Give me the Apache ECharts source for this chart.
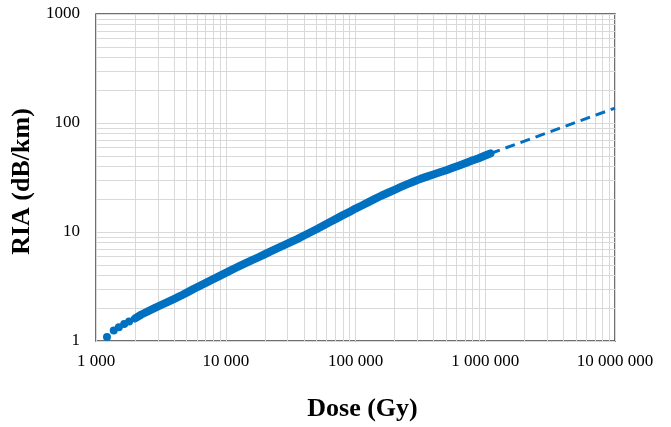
<!DOCTYPE html>
<html>
<head>
<meta charset="utf-8">
<script src="https://cdn.jsdelivr.net/npm/echarts@6/dist/echarts.min.js"></script>
<style>
  html, body { margin: 0; padding: 0; background: #fff; }
  #chart { width: 671px; height: 427px; }
</style>
</head>
<body>
<div id="chart"></div>
<script>
// early, separated points (Gy, dB/km)
const sparseDose = [1215, 1370, 1500, 1650, 1800];
const sparseRia = [1.09, 1.25, 1.34, 1.43, 1.51];

// dense part of the measurement
const dose = [2000, 2240, 2510, 2820, 3160, 3550, 3980, 4470, 5010, 5620, 6310, 7080, 7940, 8910,
  10000, 11200, 12600, 14100, 15800, 17800, 20000, 22400, 25100, 28200, 31600, 35500, 39800, 44700,
  50100, 56200, 63100, 70800, 79400, 89100, 100000, 112000, 126000, 141000, 158000, 178000, 200000,
  224000, 251000, 282000, 316000, 355000, 398000, 447000, 501000, 562000, 631000, 708000, 794000,
  891000, 1000000, 1096000];
const ria = [1.61, 1.75, 1.87, 2.00, 2.13, 2.27, 2.42, 2.59, 2.78, 2.99, 3.20, 3.43, 3.67, 3.94,
  4.22, 4.52, 4.83, 5.15, 5.50, 5.86, 6.25, 6.67, 7.10, 7.57, 8.07, 8.61, 9.23, 9.89,
  10.6, 11.4, 12.3, 13.2, 14.2, 15.2, 16.4, 17.5, 18.8, 20.1, 21.5, 22.9, 24.4,
  25.9, 27.5, 29.1, 30.7, 32.2, 33.7, 35.3, 36.9, 38.8, 40.8, 43.0, 45.2,
  47.5, 50.3, 52.5];

// extrapolation (dashed)
const fitDose = [1096000, 10000000];
const fitRia = [52.5, 137];

const xMinor = [2000, 3000, 4000, 5000, 6000, 7000, 8000, 9000,
  20000, 30000, 40000, 50000, 60000, 70000, 80000, 90000,
  200000, 300000, 400000, 500000, 600000, 700000, 800000, 900000,
  2000000, 3000000, 4000000, 5000000, 6000000, 7000000, 8000000, 9000000];
const yMinor = [2, 3, 4, 5, 6, 7, 8, 9, 20, 30, 40, 50, 60, 70, 80, 90, 200, 300, 400, 500, 600, 700, 800, 900];

const blue = '#0070C0';
const gridColor = '#d9d9d9';
const font = 'Liberation Serif, Times New Roman, serif';

function zip(a, b) {
  return a.map((v, i) => [v, b[i]]);
}
function spaced(v) {
  return String(Math.round(v)).replace(/\B(?=(\d{3})+(?!\d))/g, ' ');
}

const chart = echarts.init(document.getElementById('chart'), null, { renderer: 'canvas' });

const option = {
  animation: false,
  backgroundColor: '#fff',
  grid: {
    left: 96, right: 56, top: 14, bottom: 77,
    show: true, borderColor: '#404040', borderWidth: 1.5, backgroundColor: 'transparent'
  },
  xAxis: {
    type: 'log', logBase: 10, min: 1000, max: 10000000,
    name: 'Dose (Gy)', nameLocation: 'middle', nameGap: 55,
    nameTextStyle: { fontFamily: font, fontWeight: 'bold', fontSize: 26, color: '#000', padding: [0, 0, 0, 14] },
    axisLine: { show: false },
    axisTick: { show: false },
    axisLabel: { fontFamily: font, fontSize: 17, color: '#000', margin: 12, formatter: spaced },
    splitLine: { show: true, lineStyle: { color: gridColor, width: 1 } }
  },
  yAxis: {
    type: 'log', logBase: 10, min: 1, max: 1000,
    name: 'RIA (dB/km)', nameLocation: 'middle', nameGap: 57,
    nameTextStyle: { fontFamily: font, fontWeight: 'bold', fontSize: 26, color: '#000', padding: [0, 8, 0, 0] },
    axisLine: { show: false },
    axisTick: { show: false },
    axisLabel: { fontFamily: font, fontSize: 17, color: '#000', margin: 16, formatter: v => String(Math.round(v)) },
    splitLine: { show: true, lineStyle: { color: gridColor, width: 1 } }
  },
  series: [
    {
      // minor grid lines at 2..9 of each decade
      type: 'line', z: 1, silent: true,
      data: [[1000, 1]], showSymbol: false, lineStyle: { opacity: 0 },
      markLine: {
        z: 1, silent: true, symbol: ['none', 'none'], label: { show: false },
        lineStyle: { color: gridColor, type: 'solid', width: 1 },
        data: xMinor.map(v => ({ xAxis: v })).concat(yMinor.map(v => ({ yAxis: v })))
      }
    },
    {
      type: 'line', z: 3,
      data: zip(fitDose, fitRia),
      showSymbol: false,
      lineStyle: { color: blue, width: 3, type: [10, 6] }
    },
    {
      type: 'line', z: 4,
      data: zip(dose, ria),
      showSymbol: false,
      lineStyle: { color: blue, width: 8, cap: 'round', join: 'round' }
    },
    {
      type: 'scatter', z: 5,
      data: zip(sparseDose, sparseRia),
      symbol: 'circle', symbolSize: 8,
      itemStyle: { color: blue, opacity: 1 }
    }
  ]
};

chart.setOption(option);
</script>
</body>
</html>
